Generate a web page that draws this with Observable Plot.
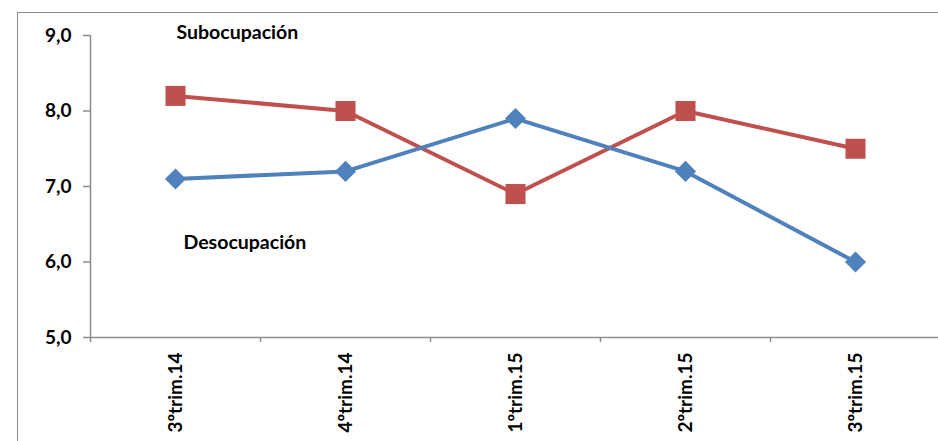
<!DOCTYPE html>
<html>
<head>
<meta charset="utf-8">
<script src="https://cdn.jsdelivr.net/npm/d3@7"></script>
<script src="https://cdn.jsdelivr.net/npm/@observablehq/plot@0.6"></script>
<style>
  html, body { margin: 0; padding: 0; background: #fff; overflow: hidden; }
  #wrap { position: relative; width: 938px; height: 441px; }
  #frame { position: absolute; left: 17px; top: 12px; width: 960px; height: 480px;
           border-left: 1.5px solid #8c8c8c; border-top: 1.5px solid #8c8c8c; }
  #chart { position: absolute; left: 0; top: 0; }
</style>
</head>
<body>
<div id="wrap"><div id="frame"></div><div id="chart"></div></div>
<script>
const categories = ["3ºtrim.14", "4ºtrim.14", "1ºtrim.15", "2ºtrim.15", "3ºtrim.15"];
const desocupacion = [7.1, 7.2, 7.9, 7.2, 6.0];
const subocupacion = [8.2, 8.0, 6.9, 8.0, 7.5];
const yTicks = [5, 6, 7, 8, 9];
const seriesNames = ["Desocupación", "Subocupación"];

const rows = [];
categories.forEach((c, i) => {
  rows.push({i, cat: c, serie: seriesNames[0], v: desocupacion[i]});
  rows.push({i, cat: c, serie: seriesNames[1], v: subocupacion[i]});
});
const deso = rows.filter(d => d.serie === seriesNames[0]);
const sub = rows.filter(d => d.serie === seriesNames[1]);
const boundaries = d3.range(categories.length + 1).map(k => k - 0.5);

const fontFam = "Lato, 'Open Sans', sans-serif";
const blue = "#4F81BD", red = "#C0504D", axisGray = "#8c8c8c";

const plot = Plot.plot({
  width: 938,
  height: 441,
  marginLeft: 90,
  marginRight: 0,
  marginTop: 35,
  marginBottom: 104,
  style: {fontFamily: fontFam, background: "transparent", overflow: "visible"},
  x: {type: "linear", domain: [-0.5, categories.length - 0.5], range: [90, 940]},
  y: {domain: [5, 9], axis: null},
  marks: [
    Plot.ruleX([-0.5], {stroke: axisGray, strokeWidth: 1.5}),
    Plot.ruleY([5], {stroke: axisGray, strokeWidth: 1.5}),
    Plot.axisY({ticks: yTicks, tickSize: 7, tickPadding: 12, stroke: axisGray, strokeWidth: 1.5,
      tickFormat: d => d3.format(".1f")(d).replace(".", ","),
      fontSize: 19, fontWeight: "bold", fill: "#000", label: null}),
    Plot.axisX({ticks: boundaries, tickSize: 5, stroke: axisGray, strokeWidth: 1.5, tickFormat: () => "", label: null}),
    Plot.axisX({ticks: d3.range(categories.length), tickSize: 0, tickPadding: 15, tickRotate: -90,
      tickFormat: i => categories[i], fontSize: 19, fontWeight: "bold", fill: "#000", label: null}),
    Plot.line(sub, {x: "i", y: "v", stroke: red, strokeWidth: 4}),
    Plot.line(deso, {x: "i", y: "v", stroke: blue, strokeWidth: 4}),
    Plot.dot(sub, {x: "i", y: "v", symbol: "square", r: 11.3, fill: red, stroke: null}),
    Plot.dot(deso, {x: "i", y: "v", symbol: "diamond2", r: 9.5, fill: blue, stroke: null}),
    Plot.text([seriesNames[1]], {x: 0, y: 9.04, text: d => d, dx: 1, textAnchor: "start",
      fontSize: 19.5, fontWeight: "bold", fill: "#000"}),
    Plot.text([seriesNames[0]], {x: 0, y: 6.26, text: d => d, dx: 8, textAnchor: "start",
      fontSize: 19.5, fontWeight: "bold", fill: "#000"})
  ]
});
document.getElementById("chart").appendChild(plot);
</script>
</body>
</html>
